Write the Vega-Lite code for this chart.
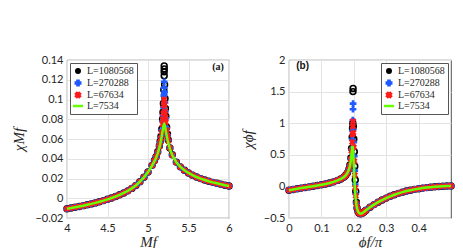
{
  "$schema": "https://vega.github.io/schema/vega-lite/v6.json",
  "background": "white",
  "padding": {"left": 11, "top": 53, "right": 5, "bottom": 2},
  "spacing": 60,
  "bounds": "flush",
  "resolve": {"scale": {"color": "independent"}, "legend": {"color": "independent"}},
  "config": {
    "view": {"stroke": "#262626", "strokeWidth": 0.8},
    "axis": {"labelFont": "Lato", "labelFontSize": 11, "labelColor": "#262626", "labelOverlap": false, "labelSeparation": 0, "labelFlush": false, "ticks": false, "domain": false, "grid": true, "gridColor": "#e3e3e3", "gridWidth": 1, "labelPadding": 4, "titleFont": "Liberation Serif", "titleFontStyle": "italic", "titleFontWeight": "normal", "titleFontSize": 15, "titleColor": "#262626"},
    "axisX": {"titlePadding": 1, "labelOverlap": false},
    "axisY": {"titlePadding": 8, "labelOverlap": false},
    "legend": {"strokeColor": "#555555", "fillColor": "white", "padding": 3, "offset": 3, "labelFont": "Liberation Serif", "labelFontSize": 10, "labelColor": "#262626", "rowPadding": 0, "symbolSize": 30, "symbolStrokeWidth": 1.5}
  },
  "datasets": {
    "a": [
      {"x":4.00,"g":-0.0106,"r":-0.0106,"b":-0.0106,"k":-0.0106},
      {"x":4.05,"g":-0.0099,"r":-0.0099,"b":-0.0099,"k":-0.0099},
      {"x":4.10,"g":-0.0091,"r":-0.0091,"b":-0.0091,"k":-0.0091},
      {"x":4.15,"g":-0.0083,"r":-0.0083,"b":-0.0083,"k":-0.0083},
      {"x":4.20,"g":-0.0075,"r":-0.0075,"b":-0.0075,"k":-0.0075},
      {"x":4.25,"g":-0.0066,"r":-0.0066,"b":-0.0066,"k":-0.0066},
      {"x":4.30,"g":-0.0057,"r":-0.0057,"b":-0.0057,"k":-0.0057},
      {"x":4.35,"g":-0.0047,"r":-0.0047,"b":-0.0047,"k":-0.0047},
      {"x":4.40,"g":-0.0036,"r":-0.0036,"b":-0.0036,"k":-0.0036},
      {"x":4.45,"g":-0.0024,"r":-0.0024,"b":-0.0024,"k":-0.0024},
      {"x":4.50,"g":-0.0011,"r":-0.0011,"b":-0.0011,"k":-0.0011},
      {"x":4.55,"g":0.0003,"r":0.0003,"b":0.0003,"k":0.0003},
      {"x":4.60,"g":0.0018,"r":0.0018,"b":0.0018,"k":0.0018},
      {"x":4.65,"g":0.0035,"r":0.0035,"b":0.0035,"k":0.0035},
      {"x":4.70,"g":0.0054,"r":0.0054,"b":0.0054,"k":0.0054},
      {"x":4.75,"g":0.0075,"r":0.0075,"b":0.0075,"k":0.0075},
      {"x":4.80,"g":0.0100,"r":0.0100,"b":0.0100,"k":0.0100},
      {"x":4.85,"g":0.0130,"r":0.0130,"b":0.0130,"k":0.0130},
      {"x":4.90,"g":0.0168,"r":0.0168,"b":0.0168,"k":0.0168},
      {"x":4.95,"g":0.0212,"r":0.0212,"b":0.0212,"k":0.0212},
      {"x":5.00,"g":0.0265,"r":0.0265,"b":0.0265,"k":0.0265},
      {"x":5.05,"g":0.0330,"r":0.0332,"b":0.0333,"k":0.0333},
      {"x":5.08,"g":0.0375,"r":0.0380,"b":0.0382,"k":0.0382},
      {"x":5.10,"g":0.0410,"r":0.0418,"b":0.0420,"k":0.0420},
      {"x":5.12,"g":0.0455,"r":0.0465,"b":0.0470,"k":0.0470},
      {"x":5.14,"g":0.0510,"r":0.0525,"b":0.0530,"k":0.0530},
      {"x":5.15,"g":0.0545,"r":0.0565,"b":0.0570,"k":0.0575},
      {"x":5.16,"g":0.0585,"r":0.0610,"b":0.0620,"k":0.0625},
      {"x":5.17,"g":0.0630,"r":0.0670,"b":0.0690,"k":0.0700},
      {"x":5.18,"g":0.0680,"r":0.0750,"b":0.0780,"k":0.0800},
      {"x":5.185,"g":0.0705,"r":0.0800,"b":0.0840,"k":0.0870},
      {"x":5.19,"g":0.0728,"r":0.0860,"b":0.0920,"k":0.0960},
      {"x":5.195,"g":0.0745,"r":0.0940,"b":0.1040,"k":0.1100},
      {"x":5.20,"g":0.0752,"r":0.1000,"b":0.1180,"k":0.1240},
      {"x":5.205,"g":0.0745,"r":0.0950,"b":0.1080,"k":0.1150},
      {"x":5.21,"g":0.0728,"r":0.0880,"b":0.0970,"k":0.1010},
      {"x":5.215,"g":0.0705,"r":0.0820,"b":0.0880,"k":0.0910},
      {"x":5.22,"g":0.0680,"r":0.0770,"b":0.0810,"k":0.0830},
      {"x":5.23,"g":0.0635,"r":0.0690,"b":0.0710,"k":0.0720},
      {"x":5.24,"g":0.0595,"r":0.0630,"b":0.0640,"k":0.0650},
      {"x":5.25,"g":0.0560,"r":0.0580,"b":0.0590,"k":0.0590},
      {"x":5.27,"g":0.0500,"r":0.0510,"b":0.0510,"k":0.0510},
      {"x":5.30,"g":0.0435,"r":0.0438,"b":0.0440,"k":0.0440},
      {"x":5.35,"g":0.0365,"r":0.0365,"b":0.0366,"k":0.0366},
      {"x":5.40,"g":0.0318,"r":0.0318,"b":0.0318,"k":0.0318},
      {"x":5.45,"g":0.0283,"r":0.0283,"b":0.0283,"k":0.0283},
      {"x":5.50,"g":0.0256,"r":0.0256,"b":0.0256,"k":0.0256},
      {"x":5.55,"g":0.0234,"r":0.0234,"b":0.0234,"k":0.0234},
      {"x":5.60,"g":0.0215,"r":0.0215,"b":0.0215,"k":0.0215},
      {"x":5.65,"g":0.0199,"r":0.0199,"b":0.0199,"k":0.0199},
      {"x":5.70,"g":0.0185,"r":0.0185,"b":0.0185,"k":0.0185},
      {"x":5.75,"g":0.0172,"r":0.0172,"b":0.0172,"k":0.0172},
      {"x":5.80,"g":0.0161,"r":0.0161,"b":0.0161,"k":0.0161},
      {"x":5.85,"g":0.0151,"r":0.0151,"b":0.0151,"k":0.0151},
      {"x":5.90,"g":0.0141,"r":0.0141,"b":0.0141,"k":0.0141},
      {"x":5.95,"g":0.0132,"r":0.0132,"b":0.0132,"k":0.0132},
      {"x":6.00,"g":0.0124,"r":0.0124,"b":0.0124,"k":0.0124},
      {"x":5.1995,"b":0.1120,"k":0.1280},
      {"x":5.2005,"b":0.1060,"k":0.1310},
      {"x":5.2,"k":0.1340},
      {"x":5.2,"b":0.0660},
      {"x":5.2,"b":0.0710}
    ],
    "b": [
      {"x":0.0000,"g":-0.060,"r":-0.060,"b":-0.060,"k":-0.060},
      {"x":0.0125,"g":-0.048,"r":-0.048,"b":-0.048,"k":-0.048},
      {"x":0.0250,"g":-0.037,"r":-0.037,"b":-0.037,"k":-0.037},
      {"x":0.0375,"g":-0.027,"r":-0.027,"b":-0.027,"k":-0.027},
      {"x":0.0500,"g":-0.017,"r":-0.017,"b":-0.017,"k":-0.017},
      {"x":0.0625,"g":-0.007,"r":-0.007,"b":-0.007,"k":-0.007},
      {"x":0.0750,"g":0.003,"r":0.003,"b":0.003,"k":0.003},
      {"x":0.0875,"g":0.014,"r":0.014,"b":0.014,"k":0.014},
      {"x":0.1000,"g":0.026,"r":0.026,"b":0.026,"k":0.026},
      {"x":0.1125,"g":0.039,"r":0.039,"b":0.039,"k":0.039},
      {"x":0.1250,"g":0.054,"r":0.054,"b":0.054,"k":0.054},
      {"x":0.1375,"g":0.072,"r":0.072,"b":0.072,"k":0.072},
      {"x":0.1500,"g":0.095,"r":0.095,"b":0.095,"k":0.095},
      {"x":0.1600,"g":0.118,"r":0.118,"b":0.118,"k":0.118},
      {"x":0.1700,"g":0.150,"r":0.150,"b":0.150,"k":0.150},
      {"x":0.1750,"g":0.175,"r":0.176,"b":0.176,"k":0.176},
      {"x":0.1800,"g":0.210,"r":0.212,"b":0.213,"k":0.213},
      {"x":0.1850,"g":0.265,"r":0.270,"b":0.272,"k":0.273},
      {"x":0.1880,"g":0.320,"r":0.330,"b":0.335,"k":0.340},
      {"x":0.1910,"g":0.410,"r":0.430,"b":0.440,"k":0.450},
      {"x":0.1930,"g":0.520,"r":0.560,"b":0.580,"k":0.600},
      {"x":0.1950,"g":0.610,"r":0.700,"b":0.740,"k":0.780},
      {"x":0.1960,"g":0.640,"r":0.820,"b":0.880,"k":0.920},
      {"x":0.1970,"g":0.620,"r":0.950,"b":1.050,"k":1.000},
      {"x":0.1975,"r":1.030,"b":1.220,"k":1.500},
      {"x":0.1978,"b":1.310,"k":1.550},
      {"x":0.1985,"g":0.520,"r":0.850,"b":0.900,"k":0.950},
      {"x":0.2000,"g":0.340,"r":0.620,"b":0.700,"k":0.750},
      {"x":0.2015,"g":0.160,"r":0.400,"b":0.480,"k":0.550},
      {"x":0.2030,"g":0.000,"r":0.180,"b":0.250,"k":0.320},
      {"x":0.2045,"g":-0.120,"r":-0.020,"b":0.030,"k":0.100},
      {"x":0.2060,"g":-0.210,"r":-0.150,"b":-0.120,"k":-0.080},
      {"x":0.2080,"g":-0.290,"r":-0.270,"b":-0.260,"k":-0.250},
      {"x":0.2100,"g":-0.345,"r":-0.340,"b":-0.340,"k":-0.340},
      {"x":0.2130,"g":-0.395,"r":-0.395,"b":-0.395,"k":-0.395},
      {"x":0.2160,"g":-0.420,"r":-0.420,"b":-0.420,"k":-0.420},
      {"x":0.2200,"g":-0.432,"r":-0.432,"b":-0.432,"k":-0.432},
      {"x":0.2240,"g":-0.430,"r":-0.430,"b":-0.430,"k":-0.430},
      {"x":0.2280,"g":-0.418,"r":-0.418,"b":-0.418,"k":-0.418},
      {"x":0.2320,"g":-0.400,"r":-0.400,"b":-0.400,"k":-0.400},
      {"x":0.2375,"g":-0.378,"r":-0.378,"b":-0.378,"k":-0.378},
      {"x":0.2500,"g":-0.330,"r":-0.330,"b":-0.330,"k":-0.330},
      {"x":0.2625,"g":-0.288,"r":-0.288,"b":-0.288,"k":-0.288},
      {"x":0.2750,"g":-0.250,"r":-0.250,"b":-0.250,"k":-0.250},
      {"x":0.2875,"g":-0.216,"r":-0.216,"b":-0.216,"k":-0.216},
      {"x":0.3000,"g":-0.185,"r":-0.185,"b":-0.185,"k":-0.185},
      {"x":0.3125,"g":-0.157,"r":-0.157,"b":-0.157,"k":-0.157},
      {"x":0.3250,"g":-0.132,"r":-0.132,"b":-0.132,"k":-0.132},
      {"x":0.3375,"g":-0.110,"r":-0.110,"b":-0.110,"k":-0.110},
      {"x":0.3500,"g":-0.091,"r":-0.091,"b":-0.091,"k":-0.091},
      {"x":0.3625,"g":-0.074,"r":-0.074,"b":-0.074,"k":-0.074},
      {"x":0.3750,"g":-0.060,"r":-0.060,"b":-0.060,"k":-0.060},
      {"x":0.3875,"g":-0.047,"r":-0.047,"b":-0.047,"k":-0.047},
      {"x":0.4000,"g":-0.036,"r":-0.036,"b":-0.036,"k":-0.036},
      {"x":0.4125,"g":-0.027,"r":-0.027,"b":-0.027,"k":-0.027},
      {"x":0.4250,"g":-0.019,"r":-0.019,"b":-0.019,"k":-0.019},
      {"x":0.4375,"g":-0.012,"r":-0.012,"b":-0.012,"k":-0.012},
      {"x":0.4500,"g":-0.006,"r":-0.006,"b":-0.006,"k":-0.006},
      {"x":0.4625,"g":-0.001,"r":-0.001,"b":-0.001,"k":-0.001},
      {"x":0.4750,"g":0.003,"r":0.003,"b":0.003,"k":0.003},
      {"x":0.4875,"g":0.006,"r":0.006,"b":0.006,"k":0.006},
      {"x":0.5000,"g":0.008,"r":0.008,"b":0.008,"k":0.008}
    ]
  },
  "hconcat": [
    {
      "width": 162, "height": 158,
      "data": {"name": "a"},
      "layer": [
        {"mark": {"type": "point", "filled": false, "strokeWidth": 1.6, "size": 34, "opacity": 1},
         "encoding": {
           "x": {"field": "x", "type": "quantitative", "title": "Mf", "scale": {"domain": [4, 6], "nice": false, "zero": false}, "axis": {"tickCount": 4, "format": "~g", "labelOverlap": false}},
           "y": {"field": "k", "type": "quantitative", "title": "χMf", "scale": {"domain": [-0.02, 0.14], "nice": false, "zero": false}, "axis": {"tickCount": 8, "format": "~g", "labelOverlap": false, "labelSeparation": 0}},
           "color": {"datum": "L=1080568", "type": "nominal",
             "scale": {"domain": ["L=1080568", "L=270288", "L=67634", "L=7534"], "range": ["#000000", "#1e5aff", "#ff1a1a", "#66ff00"]},
             "legend": {"title": null, "orient": "top-left",
               "encode": {"symbols": {"update": {
                 "shape": {"signal": "datum.value === 'L=7534' ? 'stroke' : datum.value === 'L=1080568' ? 'circle' : 'cross'"},
                 "angle": {"signal": "datum.value === 'L=67634' ? 45 : 0"},
                 "fill": {"signal": "datum.value === 'L=270288' ? '#1e5aff' : datum.value === 'L=67634' ? '#ff1a1a' : 'transparent'"},
                 "stroke": {"signal": "datum.value === 'L=1080568' ? '#000000' : datum.value === 'L=7534' ? '#66ff00' : 'transparent'"},
                 "strokeWidth": {"signal": "datum.value === 'L=7534' ? 2.5 : 1.5"},
                 "size": {"signal": "datum.value === 'L=7534' ? 100 : datum.value === 'L=1080568' ? 20 : 30"},
                 "opacity": {"value": 1}
               }}}}}
         }},
        {"mark": {"type": "point", "shape": "cross", "filled": true, "size": 44, "opacity": 1},
         "encoding": {
           "x": {"field": "x", "type": "quantitative", "title": "Mf"},
           "y": {"field": "b", "type": "quantitative", "title": "χMf"},
           "color": {"datum": "L=270288", "type": "nominal",
             "legend": {"title": null, "orient": "top-left",
               "encode": {"symbols": {"update": {
                 "shape": {"signal": "datum.value === 'L=7534' ? 'stroke' : datum.value === 'L=1080568' ? 'circle' : 'cross'"},
                 "angle": {"signal": "datum.value === 'L=67634' ? 45 : 0"},
                 "fill": {"signal": "datum.value === 'L=270288' ? '#1e5aff' : datum.value === 'L=67634' ? '#ff1a1a' : 'transparent'"},
                 "stroke": {"signal": "datum.value === 'L=1080568' ? '#000000' : datum.value === 'L=7534' ? '#66ff00' : 'transparent'"},
                 "strokeWidth": {"signal": "datum.value === 'L=7534' ? 2.5 : 1.5"},
                 "size": {"signal": "datum.value === 'L=7534' ? 100 : datum.value === 'L=1080568' ? 20 : 30"},
                 "opacity": {"value": 1}
               }}}}}
         }},
        {"mark": {"type": "point", "shape": "cross", "angle": 45, "filled": true, "size": 44, "opacity": 1},
         "encoding": {
           "x": {"field": "x", "type": "quantitative", "title": "Mf"},
           "y": {"field": "r", "type": "quantitative", "title": "χMf"},
           "color": {"datum": "L=67634", "type": "nominal",
             "legend": {"title": null, "orient": "top-left",
               "encode": {"symbols": {"update": {
                 "shape": {"signal": "datum.value === 'L=7534' ? 'stroke' : datum.value === 'L=1080568' ? 'circle' : 'cross'"},
                 "angle": {"signal": "datum.value === 'L=67634' ? 45 : 0"},
                 "fill": {"signal": "datum.value === 'L=270288' ? '#1e5aff' : datum.value === 'L=67634' ? '#ff1a1a' : 'transparent'"},
                 "stroke": {"signal": "datum.value === 'L=1080568' ? '#000000' : datum.value === 'L=7534' ? '#66ff00' : 'transparent'"},
                 "strokeWidth": {"signal": "datum.value === 'L=7534' ? 2.5 : 1.5"},
                 "size": {"signal": "datum.value === 'L=7534' ? 100 : datum.value === 'L=1080568' ? 20 : 30"},
                 "opacity": {"value": 1}
               }}}}}
         }},
        {"transform": [{"filter": "datum.g != null"}],
         "mark": {"type": "line", "strokeWidth": 2.5},
         "encoding": {
           "x": {"field": "x", "type": "quantitative", "title": "Mf"},
           "y": {"field": "g", "type": "quantitative", "title": "χMf"},
           "color": {"datum": "L=7534", "type": "nominal",
             "legend": {"title": null, "orient": "top-left",
               "encode": {"symbols": {"update": {
                 "shape": {"signal": "datum.value === 'L=7534' ? 'stroke' : datum.value === 'L=1080568' ? 'circle' : 'cross'"},
                 "angle": {"signal": "datum.value === 'L=67634' ? 45 : 0"},
                 "fill": {"signal": "datum.value === 'L=270288' ? '#1e5aff' : datum.value === 'L=67634' ? '#ff1a1a' : 'transparent'"},
                 "stroke": {"signal": "datum.value === 'L=1080568' ? '#000000' : datum.value === 'L=7534' ? '#66ff00' : 'transparent'"},
                 "strokeWidth": {"signal": "datum.value === 'L=7534' ? 2.5 : 1.5"},
                 "size": {"signal": "datum.value === 'L=7534' ? 100 : datum.value === 'L=1080568' ? 20 : 30"},
                 "opacity": {"value": 1}
               }}}}}
         }},
        {"data": {"values": [{"x": 5.865, "y": 0.133, "t": "(a)"}]},
         "mark": {"type": "text", "font": "Liberation Serif", "fontWeight": "bold", "fontSize": 10, "color": "#111111"},
         "encoding": {
           "x": {"field": "x", "type": "quantitative", "title": "Mf"},
           "y": {"field": "y", "type": "quantitative", "title": "χMf"},
           "text": {"field": "t"}
         }}
      ]
    },
    {
      "width": 162, "height": 158,
      "data": {"name": "b"},
      "layer": [
        {"mark": {"type": "point", "filled": false, "strokeWidth": 1.6, "size": 34, "opacity": 1},
         "encoding": {
           "x": {"field": "x", "type": "quantitative", "title": "ϕf/π", "scale": {"domain": [0, 0.5], "nice": false, "zero": false}, "axis": {"values": [0, 0.1, 0.2, 0.3, 0.4], "format": "~g", "labelOverlap": false}},
           "y": {"field": "k", "type": "quantitative", "title": "χϕf", "scale": {"domain": [-0.5, 2], "nice": false, "zero": false}, "axis": {"tickCount": 5, "format": "~g", "labelOverlap": false, "labelSeparation": 0}},
           "color": {"datum": "L=1080568", "type": "nominal",
             "scale": {"domain": ["L=1080568", "L=270288", "L=67634", "L=7534"], "range": ["#000000", "#1e5aff", "#ff1a1a", "#66ff00"]},
             "legend": {"title": null, "orient": "top-right",
               "encode": {"symbols": {"update": {
                 "shape": {"signal": "datum.value === 'L=7534' ? 'stroke' : datum.value === 'L=1080568' ? 'circle' : 'cross'"},
                 "angle": {"signal": "datum.value === 'L=67634' ? 45 : 0"},
                 "fill": {"signal": "datum.value === 'L=270288' ? '#1e5aff' : datum.value === 'L=67634' ? '#ff1a1a' : 'transparent'"},
                 "stroke": {"signal": "datum.value === 'L=1080568' ? '#000000' : datum.value === 'L=7534' ? '#66ff00' : 'transparent'"},
                 "strokeWidth": {"signal": "datum.value === 'L=7534' ? 2.5 : 1.5"},
                 "size": {"signal": "datum.value === 'L=7534' ? 100 : datum.value === 'L=1080568' ? 20 : 30"},
                 "opacity": {"value": 1}
               }}}}}
         }},
        {"mark": {"type": "point", "shape": "cross", "filled": true, "size": 44, "opacity": 1},
         "encoding": {
           "x": {"field": "x", "type": "quantitative", "title": "ϕf/π"},
           "y": {"field": "b", "type": "quantitative", "title": "χϕf"},
           "color": {"datum": "L=270288", "type": "nominal",
             "legend": {"title": null, "orient": "top-right",
               "encode": {"symbols": {"update": {
                 "shape": {"signal": "datum.value === 'L=7534' ? 'stroke' : datum.value === 'L=1080568' ? 'circle' : 'cross'"},
                 "angle": {"signal": "datum.value === 'L=67634' ? 45 : 0"},
                 "fill": {"signal": "datum.value === 'L=270288' ? '#1e5aff' : datum.value === 'L=67634' ? '#ff1a1a' : 'transparent'"},
                 "stroke": {"signal": "datum.value === 'L=1080568' ? '#000000' : datum.value === 'L=7534' ? '#66ff00' : 'transparent'"},
                 "strokeWidth": {"signal": "datum.value === 'L=7534' ? 2.5 : 1.5"},
                 "size": {"signal": "datum.value === 'L=7534' ? 100 : datum.value === 'L=1080568' ? 20 : 30"},
                 "opacity": {"value": 1}
               }}}}}
         }},
        {"mark": {"type": "point", "shape": "cross", "angle": 45, "filled": true, "size": 44, "opacity": 1},
         "encoding": {
           "x": {"field": "x", "type": "quantitative", "title": "ϕf/π"},
           "y": {"field": "r", "type": "quantitative", "title": "χϕf"},
           "color": {"datum": "L=67634", "type": "nominal",
             "legend": {"title": null, "orient": "top-right",
               "encode": {"symbols": {"update": {
                 "shape": {"signal": "datum.value === 'L=7534' ? 'stroke' : datum.value === 'L=1080568' ? 'circle' : 'cross'"},
                 "angle": {"signal": "datum.value === 'L=67634' ? 45 : 0"},
                 "fill": {"signal": "datum.value === 'L=270288' ? '#1e5aff' : datum.value === 'L=67634' ? '#ff1a1a' : 'transparent'"},
                 "stroke": {"signal": "datum.value === 'L=1080568' ? '#000000' : datum.value === 'L=7534' ? '#66ff00' : 'transparent'"},
                 "strokeWidth": {"signal": "datum.value === 'L=7534' ? 2.5 : 1.5"},
                 "size": {"signal": "datum.value === 'L=7534' ? 100 : datum.value === 'L=1080568' ? 20 : 30"},
                 "opacity": {"value": 1}
               }}}}}
         }},
        {"transform": [{"filter": "datum.g != null"}],
         "mark": {"type": "line", "strokeWidth": 2.5},
         "encoding": {
           "x": {"field": "x", "type": "quantitative", "title": "ϕf/π"},
           "y": {"field": "g", "type": "quantitative", "title": "χϕf"},
           "color": {"datum": "L=7534", "type": "nominal",
             "legend": {"title": null, "orient": "top-right",
               "encode": {"symbols": {"update": {
                 "shape": {"signal": "datum.value === 'L=7534' ? 'stroke' : datum.value === 'L=1080568' ? 'circle' : 'cross'"},
                 "angle": {"signal": "datum.value === 'L=67634' ? 45 : 0"},
                 "fill": {"signal": "datum.value === 'L=270288' ? '#1e5aff' : datum.value === 'L=67634' ? '#ff1a1a' : 'transparent'"},
                 "stroke": {"signal": "datum.value === 'L=1080568' ? '#000000' : datum.value === 'L=7534' ? '#66ff00' : 'transparent'"},
                 "strokeWidth": {"signal": "datum.value === 'L=7534' ? 2.5 : 1.5"},
                 "size": {"signal": "datum.value === 'L=7534' ? 100 : datum.value === 'L=1080568' ? 20 : 30"},
                 "opacity": {"value": 1}
               }}}}}
         }},
        {"data": {"values": [{"x": 0.042, "y": 1.9, "t": "(b)"}]},
         "mark": {"type": "text", "font": "Liberation Sans", "fontWeight": "bold", "fontSize": 10, "color": "#111111"},
         "encoding": {
           "x": {"field": "x", "type": "quantitative", "title": "ϕf/π"},
           "y": {"field": "y", "type": "quantitative", "title": "χϕf"},
           "text": {"field": "t"}
         }}
      ]
    }
  ]
}
